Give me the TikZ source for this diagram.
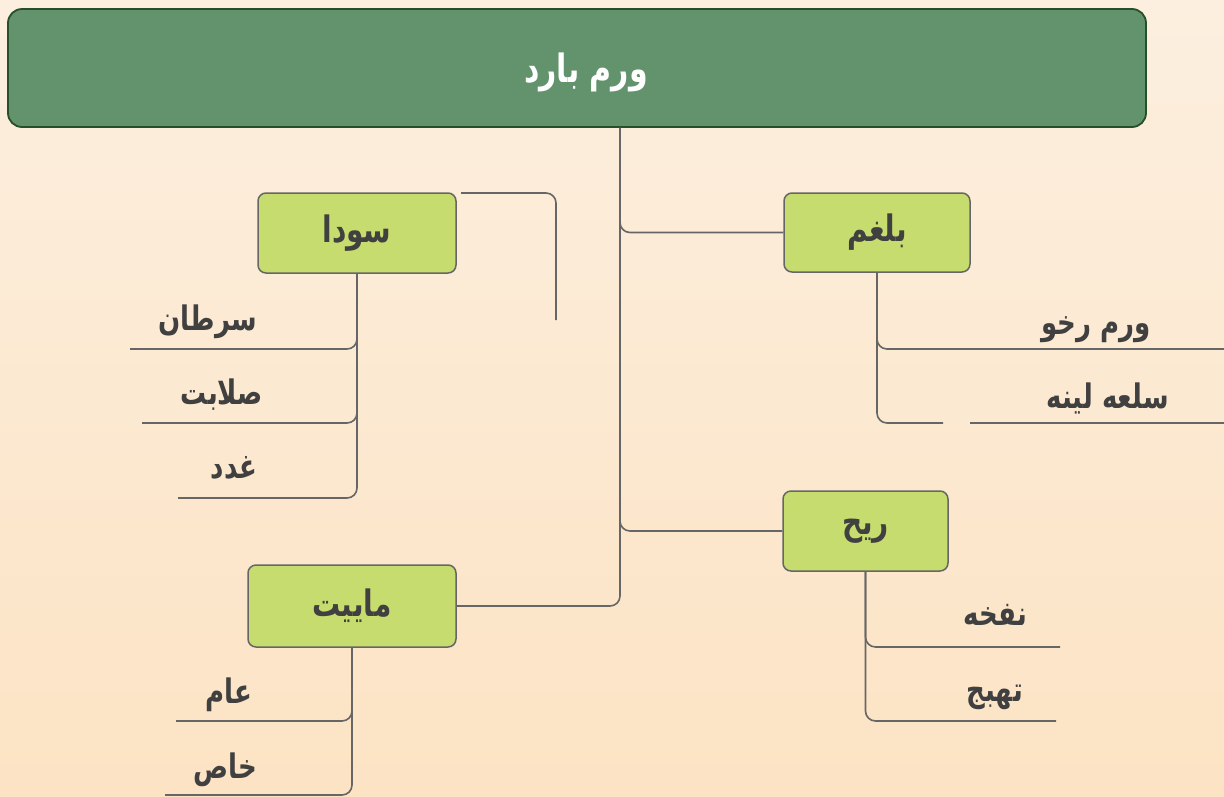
\documentclass[tikz,border=0pt]{standalone}
\usepackage{graphicx}
\usepackage{fontspec}
\TeXXeTstate=1
\newfontfamily\arabicfont[Script=Arabic]{DejaVu Sans}
\newcommand{\ar}[1]{\scalebox{1}[1.3]{\beginR #1\endR}}
\definecolor{bgtop}{RGB}{252,239,223}
\definecolor{bgbot}{RGB}{252,227,196}
\definecolor{mainfill}{RGB}{98,147,108}
\definecolor{mainedge}{RGB}{40,80,40}
\definecolor{boxfill}{RGB}{198,220,110}
\definecolor{edgegray}{RGB}{102,102,102}
\definecolor{txtgray}{RGB}{64,64,64}
\tikzset{
  mainbox/.style={draw=mainedge, line width=1.8pt, fill=mainfill, rounded corners=14pt,
    minimum width=1138pt, minimum height=118pt, inner sep=0pt},
  catbox/.style={draw=edgegray, line width=1.5pt, fill=boxfill, rounded corners=8pt, inner sep=0pt},
  conn/.style={draw=edgegray, line width=1.6pt, rounded corners=10pt},
  leaf/.style={anchor=east, inner sep=0pt, text=txtgray, font=\arabicfont\bfseries\fontsize{26}{31}\selectfont},
  cattext/.style={text=txtgray, font=\arabicfont\bfseries\fontsize{28}{33}\selectfont}
}
\begin{document}
\begin{tikzpicture}[x=1pt,y=-1pt]
\shade[top color=bgtop, bottom color=bgbot] (0,0) rectangle (1224,796);
\useasboundingbox (0,0) rectangle (1224,796);

\node[mainbox] (main) at (577,68) {};
\node[text=white, font=\arabicfont\bfseries\fontsize{30}{36}\selectfont] (maintext) at (586,72) {\ar{ورم بارد}};

\node[catbox, minimum width=198pt, minimum height=80pt, cattext] (sauda) at (357,233) {\ar{سودا}};
\node[catbox, minimum width=186pt, minimum height=79pt, cattext] (balgham) at (877,232.5) {\ar{بلغم}};
\node[catbox, minimum width=165pt, minimum height=80pt, cattext] (rih) at (865.5,531) {\ar{ريح}};
\node[catbox, minimum width=208pt, minimum height=82pt, cattext] (maiyat) at (352,606) {\ar{ماييت}};

% trunk
\coordinate (tx) at (620,0);
\draw[conn] (main.south -| tx) |- (maiyat.east);
\draw[conn] (main.south -| tx) |- (balgham.west);
\draw[conn] (main.south -| tx) |- (rih.west);

% stray connector
\coordinate (st1) at (461,193);
\coordinate (st2) at (556,320);
\draw[conn] (st1) -| (st2);

% sauda leaves
\coordinate (s1) at (130,349);
\coordinate (s2) at (142,423);
\coordinate (s3) at (178,498);
\draw[conn] (sauda.south) |- (s1);
\draw[conn] (sauda.south) |- (s2);
\draw[conn] (sauda.south) |- (s3);
\node[leaf] (sartan) at (257,322) {\ar{سرطان}};
\node[leaf] (salabat) at (263,395) {\ar{صلابت}};
\node[leaf] (ghodad) at (257,468) {\ar{غدد}};

% balgham leaves
\coordinate (b1) at (1224,349);
\coordinate (b2) at (943,423);
\coordinate (b3a) at (970,423);
\coordinate (b3b) at (1224,423);
\draw[conn] (balgham.south) |- (b1);
\draw[conn] (balgham.south) |- (b2);
\draw[conn] (b3a) -- (b3b);
\node[leaf] (rekhv) at (1151,330) {\ar{ورم رخو}};
\node[leaf] (sele) at (1169,398) {\ar{سلعه لينه}};

% rih leaves
\coordinate (r1) at (1060,647);
\coordinate (r2) at (1056,721);
\draw[conn] (rih.south) |- (r1);
\draw[conn] (rih.south) |- (r2);
\node[leaf] (nafkhe) at (1027,615) {\ar{نفخه}};
\node[leaf] (tahabboj) at (1023,697) {\ar{تهبج}};

% maiyat leaves
\coordinate (m1) at (176,721);
\coordinate (m2) at (165,795);
\draw[conn] (maiyat.south) |- (m1);
\draw[conn] (maiyat.south) |- (m2);
\node[leaf] (aam) at (252,695) {\ar{عام}};
\node[leaf] (khas) at (257,770) {\ar{خاص}};
\end{tikzpicture}
\end{document}
